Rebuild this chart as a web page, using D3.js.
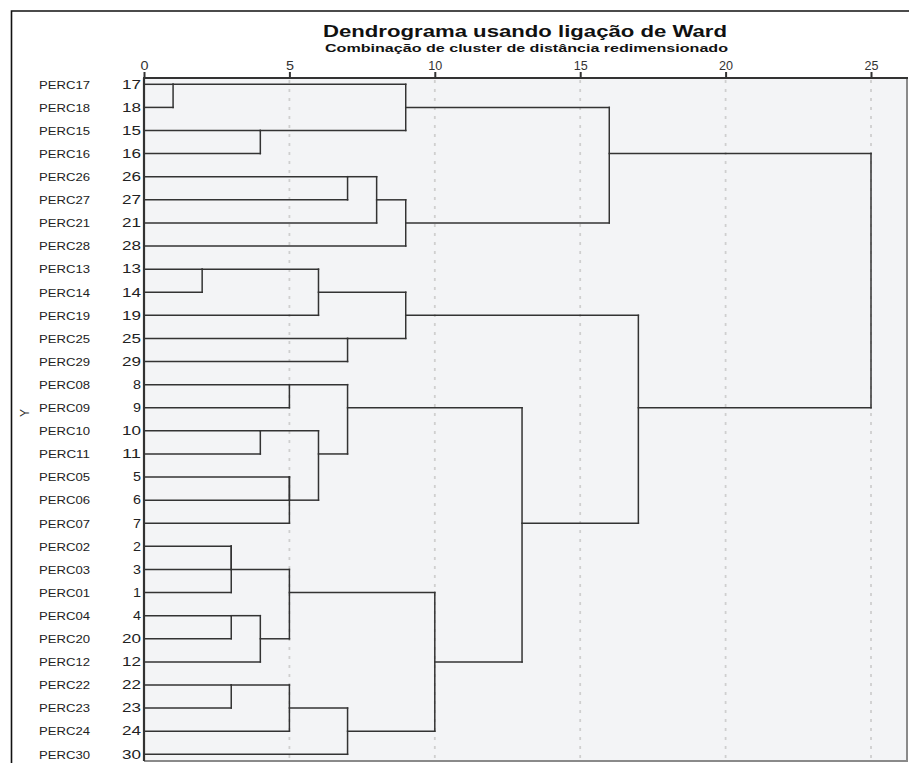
<!DOCTYPE html>
<html><head><meta charset="utf-8">
<script src="https://cdn.jsdelivr.net/npm/d3@7"></script>
<style>
body{margin:0;background:#fff}
svg{display:block}
text{font-family:"Liberation Sans",Arial,Helvetica,sans-serif}
</style>
</head><body>
<svg id="chart" width="909" height="763"></svg>
<script>
// ---------------- DATA ----------------
const titleText = "Dendrograma usando ligação de Ward";
const subtitleText = "Combinação de cluster de distância redimensionado";
const axisLabel = "Y";
const tickValues = [0, 5, 10, 15, 20, 25];

// leaf order (top to bottom) and labels
const leafIds = [17,18,15,16,26,27,21,28,13,14,19,25,29,8,9,10,11,5,6,7,2,3,1,4,20,12,22,23,24,30];
const leafLabels = ["PERC17","PERC18","PERC15","PERC16","PERC26","PERC27","PERC21","PERC28",
  "PERC13","PERC14","PERC19","PERC25","PERC29","PERC08","PERC09","PERC10","PERC11",
  "PERC05","PERC06","PERC07","PERC02","PERC03","PERC01","PERC04","PERC20","PERC12",
  "PERC22","PERC23","PERC24","PERC30"];

// merges: [childA, childB, rescaled distance]; "cN" = cluster formed by merge N
const mergeA = ["17","15","c0","26","c3","c4","c2","13","c7","25","c8","8","10","5","c13","c12","c11","2","c17","4","c19","c18","22","c22","c23","c21","c16","c10","c6"];
const mergeB = ["18","16","c1","27","21","28","c5","14","19","29","c9","9","11","6","7","c14","c15","3","1","20","12","c20","23","24","30","c24","c25","c26","c27"];
const mergeDist = [1,4,9,7,8,9,16,2,6,7,9,5,4,5,5,6,7,3,3,3,4,5,3,5,7,10,13,17,25];

// ---------------- LAYOUT ----------------
const svg = d3.select("#chart");
const plot = {left:144, right:907, top:78, bottom:761};

const x = d3.scaleLinear().domain([0, 25]).range([144, 871]);
const y = d3.scalePoint().domain(d3.range(leafIds.length)).range([84.3, 754.3]);

// outer frame
svg.append("path").attr("d", `M11.5,763 L11.5,11 L909,11`)
  .attr("fill","none").attr("stroke","#111").attr("stroke-width",1.6);

// plot background
svg.append("rect").attr("x",plot.left).attr("y",plot.top)
  .attr("width",plot.right-plot.left).attr("height",plot.bottom-plot.top)
  .attr("fill","#f3f4f6");
// right / bottom grey borders
svg.append("path").attr("d",`M${plot.left},${plot.bottom} L${plot.right},${plot.bottom} L${plot.right},${plot.top}`)
  .attr("fill","none").attr("stroke","#8a8a8a").attr("stroke-width",2);

// grid lines
svg.append("g").selectAll("line").data(tickValues.filter(v=>v>0)).join("line")
  .attr("x1",d=>x(d)).attr("x2",d=>x(d))
  .attr("y1",plot.top+2).attr("y2",plot.bottom)
  .attr("stroke","#cfcfcf").attr("stroke-width",1.8).attr("stroke-dasharray","3,6");

// top axis
const ax = svg.append("g").attr("transform",`translate(0,${plot.top})`)
  .call(d3.axisTop(x).tickValues(tickValues).tickSize(6).tickSizeOuter(0));
ax.select(".domain").remove();
ax.selectAll(".tick line").attr("stroke","#333").attr("stroke-width",2);
ax.selectAll(".tick text").attr("font-size",12).attr("fill","#333")
  .attr("font-family",'"Liberation Sans",Arial,sans-serif').attr("y",-8)
  .each(function(d){ const s=String(d); this.setAttribute("textLength", s.length===1?8:14); this.setAttribute("lengthAdjust","spacingAndGlyphs"); });
svg.append("line").attr("x1",plot.left-1).attr("x2",plot.right+1)
  .attr("y1",plot.top).attr("y2",plot.top).attr("stroke","#333").attr("stroke-width",2);
// left axis line
svg.append("line").attr("x1",plot.left).attr("x2",plot.left)
  .attr("y1",plot.top).attr("y2",plot.bottom).attr("stroke","#333").attr("stroke-width",2.2);

// title
svg.append("text").attr("x",525).attr("y",37).attr("text-anchor","middle")
  .attr("font-size",17).attr("font-weight","bold").attr("fill","#111")
  .attr("textLength",404).attr("lengthAdjust","spacingAndGlyphs").text(titleText);
svg.append("text").attr("x",526.5).attr("y",52).attr("text-anchor","middle")
  .attr("font-size",10.5).attr("font-weight","bold").attr("fill","#111")
  .attr("textLength",403).attr("lengthAdjust","spacingAndGlyphs").text(subtitleText);

// Y label
svg.append("text").attr("transform","translate(29,413) rotate(-90)")
  .attr("text-anchor","middle").attr("font-size",12).attr("fill","#333").text(axisLabel);

// leaf labels & numbers
const lab = svg.append("g");
lab.selectAll("text.name").data(leafLabels).join("text").attr("class","name")
  .attr("x",39).attr("y",(d,i)=>y(i)+4.3).attr("font-size",11).attr("fill","#222")
  .attr("textLength",51).attr("lengthAdjust","spacingAndGlyphs").text(d=>d);
lab.selectAll("text.num").data(leafIds).join("text").attr("class","num")
  .attr("x",141).attr("y",(d,i)=>y(i)+4.3).attr("text-anchor","end")
  .attr("font-size",12).attr("fill","#222")
  .attr("textLength",d=>String(d).length===1?8:19).attr("lengthAdjust","spacingAndGlyphs")
  .text(d=>d);

// ---------------- DENDROGRAM ----------------
const node = {};
leafIds.forEach((id,i)=>{ node[String(id)] = {row:i, h:0}; });
const segs = [];
mergeDist.forEach((h,k)=>{
  const a = node[mergeA[k]], b = node[mergeB[k]];
  const top = Math.min(a.row,b.row), bot = Math.max(a.row,b.row);
  segs.push({x1:x(a.h), x2:x(h), y1:y(a.row), y2:y(a.row)});
  segs.push({x1:x(b.h), x2:x(h), y1:y(b.row), y2:y(b.row)});
  segs.push({x1:x(h), x2:x(h), y1:y(top), y2:y(bot)});
  node["c"+k] = {row: Math.floor((a.row+b.row)/2), h:h};
});
svg.append("g").selectAll("line").data(segs).join("line")
  .attr("x1",d=>d.x1).attr("x2",d=>d.x2).attr("y1",d=>d.y1).attr("y2",d=>d.y2)
  .attr("stroke","#333").attr("stroke-width",1.5).attr("stroke-linecap","square");
</script>
</body></html>
